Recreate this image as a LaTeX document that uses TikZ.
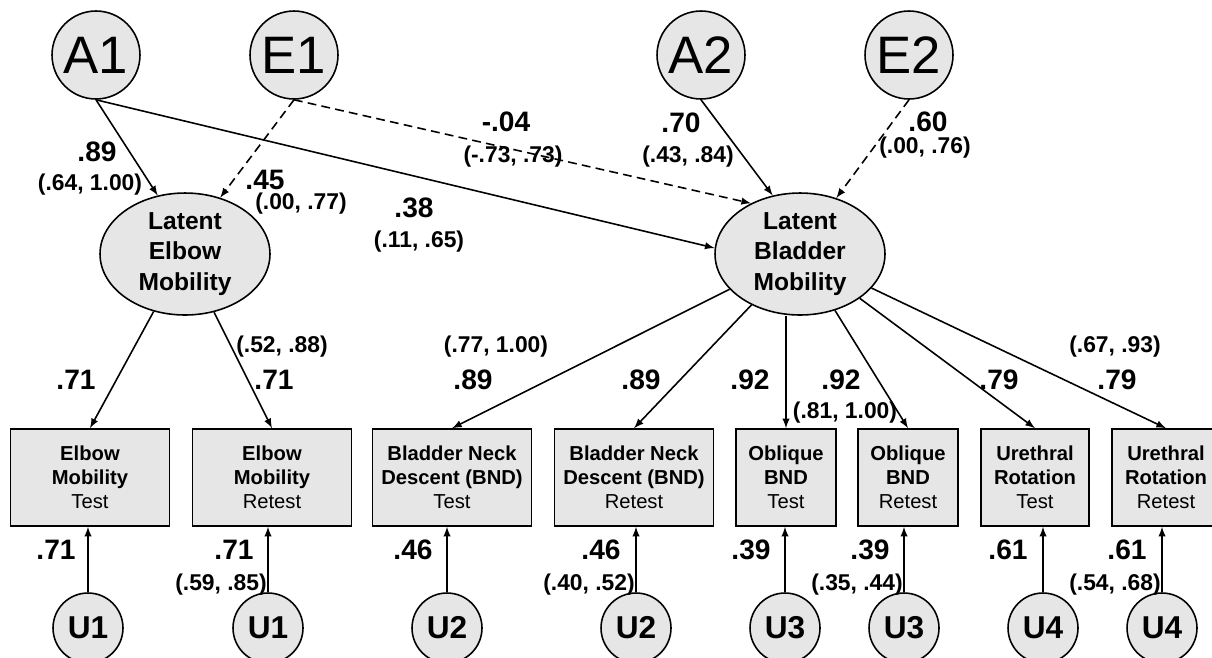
\documentclass[tikz,border=0pt]{standalone}
\usepackage{fontspec}
\setmainfont{Liberation Sans}
\usetikzlibrary{arrows,shapes.geometric}
\definecolor{nodegray}{RGB}{230,230,230}

\begin{document}
\begin{tikzpicture}[x=0.02cm,y=-0.02cm,line width=0.9pt,
  factor/.style={draw,circle,fill=nodegray,minimum size=1.76cm,inner sep=0pt,font=\fontsize{30}{30}\selectfont},
  latent/.style={draw,ellipse,fill=nodegray,minimum width=3.4cm,minimum height=2.44cm,inner sep=0pt,align=center,font=\fontsize{14}{17.4}\selectfont\bfseries},
  measure/.style={draw,rectangle,fill=nodegray,minimum height=1.94cm,inner sep=0pt,align=center,font=\fontsize{11.5}{13.8}\selectfont},
  resid/.style={draw,circle,fill=nodegray,minimum size=1.4cm,inner sep=0pt,font=\fontsize{18}{18}\selectfont\bfseries},
  coef/.style={font=\fontsize{16}{16}\selectfont\bfseries},
  ci/.style={font=\fontsize{13}{13}\selectfont\bfseries},
  dashedge/.style={dash pattern=on 5pt off 3pt}]

  \useasboundingbox (0,0) rectangle (1212,657);

  \node[factor] (A1) at (96,55) {A1};
  \node[factor] (E1) at (294,55) {E1};
  \node[factor] (A2) at (701,55) {A2};
  \node[factor] (E2) at (909,55) {E2};

  \node[latent] (latElbow) at (185,254) {Latent\\Elbow\\Mobility};
  \node[latent] (latBladder) at (800,254) {Latent\\Bladder\\Mobility};

  \node[measure,minimum width=3.18cm] (elbT) at (90,477.5) {\textbf{Elbow}\\\textbf{Mobility}\\Test};
  \node[measure,minimum width=3.18cm] (elbR) at (272,477.5) {\textbf{Elbow}\\\textbf{Mobility}\\Retest};
  \node[measure,minimum width=3.18cm] (bndT) at (452,477.5) {\textbf{Bladder Neck}\\\textbf{Descent (BND)}\\Test};
  \node[measure,minimum width=3.18cm] (bndR) at (634,477.5) {\textbf{Bladder Neck}\\\textbf{Descent (BND)}\\Retest};
  \node[measure,minimum width=2cm] (obqT) at (786,477.5) {\textbf{Oblique}\\\textbf{BND}\\Test};
  \node[measure,minimum width=2cm] (obqR) at (908,477.5) {\textbf{Oblique}\\\textbf{BND}\\Retest};
  \node[measure,minimum width=2.16cm] (urtT) at (1035,477.5) {\textbf{Urethral}\\\textbf{Rotation}\\Test};
  \node[measure,minimum width=2.16cm] (urtR) at (1166,477.5) {\textbf{Urethral}\\\textbf{Rotation}\\Retest};

  \node[resid] (u1a) at (88,628) {U1};
  \node[resid] (u1b) at (268,628) {U1};
  \node[resid] (u2a) at (447,628) {U2};
  \node[resid] (u2b) at (636,628) {U2};
  \node[resid] (u3a) at (785,628) {U3};
  \node[resid] (u3b) at (904,628) {U3};
  \node[resid] (u4a) at (1043,628) {U4};
  \node[resid] (u4b) at (1162,628) {U4};

  % genetic and environmental paths
  \path (A1.south) edge[-latex] (latElbow.115)
        (E1.south) edge[-latex,dashedge] (latElbow.58)
        (A1.south) edge[-latex] (latBladder.176)
        (E1.south) edge[-latex,dashedge] (latBladder.134)
        (A2.south) edge[-latex] (latBladder.115)
        (E2.south) edge[-latex,dashedge] (latBladder.57);

  % loadings
  \path (latElbow) edge[-latex] (elbT.north)
        (latElbow) edge[-latex] (elbR.north)
        (latBladder) edge[-latex] (bndT.north)
        (latBladder) edge[-latex] (bndR.north)
        (obqT.north |- latBladder.south) edge[-latex] (obqT.north)
        (latBladder) edge[-latex] (obqR.north)
        (latBladder) edge[-latex] (urtT.north)
        (latBladder) edge[-latex] (urtR.north);

  % unique parts
  \path (u1a.north) edge[-latex] (u1a.north |- elbT.south)
        (u1b.north) edge[-latex] (u1b.north |- elbR.south)
        (u2a.north) edge[-latex] (u2a.north |- bndT.south)
        (u2b.north) edge[-latex] (u2b.north |- bndR.south)
        (u3a.north) edge[-latex] (u3a.north |- obqT.south)
        (u3b.north) edge[-latex] (u3b.north |- obqR.south)
        (u4a.north) edge[-latex] (u4a.north |- urtT.south)
        (u4b.north) edge[-latex] (u4b.north |- urtR.south);

  \node[coef] (wA1e) at (97,152) {.89};
  \node[ci] (cA1e) at (90,185) {(.64, 1.00)};
  \node[coef] (wE1e) at (265,180) {.45};
  \node[ci] (cE1e) at (301,204) {(.00, .77)};
  \node[coef] (wA1b) at (414,208) {.38};
  \node[ci] (cA1b) at (419,242) {(.11, .65)};
  \node[coef] (wE1b) at (506,122) {-.04};
  \node[ci] (cE1b) at (513,157) {(-.73, .73)};
  \node[coef] (wA2b) at (681,123) {.70};
  \node[ci] (cA2b) at (688,157) {(.43, .84)};
  \node[coef] (wE2b) at (928,122) {.60};
  \node[ci] (cE2b) at (925,148) {(.00, .76)};

  \node[coef] (wElbT) at (76,380) {.71};
  \node[ci] (cElbR) at (282,347) {(.52, .88)};
  \node[coef] (wElbR) at (274,380) {.71};
  \node[ci] (cBndT) at (496,347) {(.77, 1.00)};
  \node[coef] (wBndT) at (473,380) {.89};
  \node[coef] (wBndR) at (641,380) {.89};
  \node[coef] (wObqT) at (750,380) {.92};
  \node[coef] (wObqR) at (841,380) {.92};
  \node[ci] (cObqR) at (845,413) {(.81, 1.00)};
  \node[coef] (wUrtT) at (999,380) {.79};
  \node[ci] (cUrtR) at (1115,347) {(.67, .93)};
  \node[coef] (wUrtR) at (1117,380) {.79};

  \node[coef] (vElbT) at (56,550) {.71};
  \node[coef] (vElbR) at (234,550) {.71};
  \node[ci] (dElbR) at (221,585) {(.59, .85)};
  \node[coef] (vBndT) at (413,550) {.46};
  \node[coef] (vBndR) at (601,550) {.46};
  \node[ci] (dBndR) at (589,585) {(.40, .52)};
  \node[coef] (vObqT) at (751,550) {.39};
  \node[coef] (vObqR) at (870,550) {.39};
  \node[ci] (dObqR) at (857,585) {(.35, .44)};
  \node[coef] (vUrtT) at (1008,550) {.61};
  \node[coef] (vUrtR) at (1127,550) {.61};
  \node[ci] (dUrtR) at (1115,585) {(.54, .68)};

\end{tikzpicture}
\end{document}
